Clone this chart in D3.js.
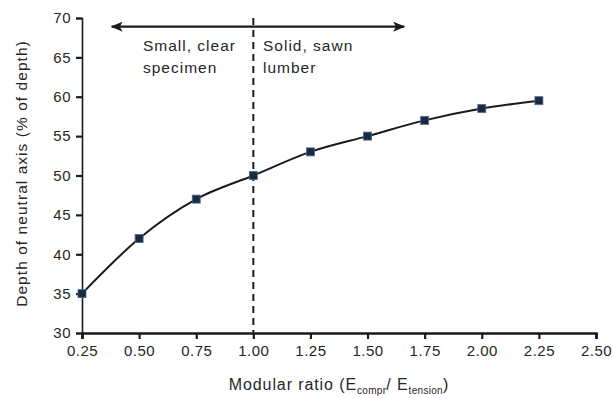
<!DOCTYPE html>
<html><head><meta charset="utf-8">
<script src="https://cdn.jsdelivr.net/npm/d3@7"></script>
<style>
body{margin:0;background:#fff;}
text{font-family:"Liberation Sans",Arial,sans-serif;fill:#262626;}
</style></head>
<body>
<svg id="c" width="612" height="398"></svg>
<script>
const ratios = [0.25, 0.50, 0.75, 1.00, 1.25, 1.50, 1.75, 2.00, 2.25];
const depths = [35, 42, 47, 50, 53, 55, 57, 58.5, 59.5];
const xTicks = [0.25, 0.50, 0.75, 1.00, 1.25, 1.50, 1.75, 2.00, 2.25, 2.50];
const yTicks = [30, 35, 40, 45, 50, 55, 60, 65, 70];
const dividerRatio = 1.00;
const arrowRange = [0.38, 1.66];
const arrowDepth = 68.9;
const leftLabel = ["Small, clear", "specimen"];
const rightLabel = ["Solid, sawn", "lumber"];

const svg = d3.select("#c");
const m = {l: 82, r: 16, t: 18, b: 65};
const W = 612, H = 398;
const x = d3.scaleLinear().domain([0.25, 2.50]).range([m.l, W - m.r]);
const y = d3.scaleLinear().domain([30, 70]).range([H - m.b, m.t]);

const defs = svg.append("defs");
defs.append("marker").attr("id","ah").attr("viewBox","0 0 12 10").attr("refX",11).attr("refY",5)
  .attr("markerWidth",12).attr("markerHeight",10).attr("markerUnits","userSpaceOnUse").attr("orient","auto-start-reverse")
  .append("path").attr("d","M0,0 L12,5 L0,10 L3,5 Z").attr("fill","#1a1a1a");

// axes
const xa = svg.append("g").attr("transform",`translate(0,${y(30)})`)
  .call(d3.axisBottom(x).tickValues(xTicks).tickFormat(d3.format(".2f")).tickSize(6).tickSizeOuter(6).tickPadding(6));
const ya = svg.append("g").attr("transform",`translate(${x(0.25)},0)`)
  .call(d3.axisLeft(y).tickValues(yTicks).tickSize(6).tickSizeOuter(6).tickPadding(5));
[xa, ya].forEach(g => {
  g.select(".domain").attr("stroke","#1a1a1a");
  g.selectAll(".tick line").attr("stroke","#1a1a1a").attr("stroke-width",2.2);
  g.selectAll("text").style("font-size","15px").style("letter-spacing","0.5px").attr("fill","#262626")
    .style("font-family","'Liberation Sans',Arial,sans-serif");
});
xa.select(".domain").attr("stroke-width",2.6);
ya.select(".domain").attr("stroke-width",1.6);

// divider
svg.append("line").attr("x1",x(dividerRatio)).attr("x2",x(dividerRatio))
  .attr("y1",y(70)).attr("y2",y(30)).attr("stroke","#1a1a1a").attr("stroke-width",2)
  .attr("stroke-dasharray","7,5");

// arrow
svg.append("line").attr("x1",x(arrowRange[0])).attr("x2",x(arrowRange[1]))
  .attr("y1",y(arrowDepth)).attr("y2",y(arrowDepth)).attr("stroke","#1a1a1a").attr("stroke-width",2.2)
  .attr("marker-start","url(#ah)").attr("marker-end","url(#ah)");

// labels
const lab = (lines, xx) => lines.forEach((t,i) => svg.append("text").attr("x",xx).attr("y",51 + i*22)
  .style("font-size","15.5px").style("letter-spacing","1px").text(t));
lab(leftLabel, 143);
lab(rightLabel, 263);

// curve
const pts = ratios.map((r,i) => [r, depths[i]]);
svg.append("path").datum(pts)
  .attr("d", d3.line().x(d => x(d[0])).y(d => y(d[1])).curve(d3.curveMonotoneX))
  .attr("fill","none").attr("stroke","#1a1a1a").attr("stroke-width",2);

svg.selectAll("rect.pt").data(pts).join("rect").attr("class","pt")
  .attr("x", d => x(d[0]) - 4).attr("y", d => y(d[1]) - 4).attr("width",8).attr("height",8)
  .attr("fill","#1c2a3e").attr("stroke","#4a6b99").attr("stroke-width",0.8);

// axis titles
const xt = svg.append("text").attr("x", 339).attr("y", 390).attr("text-anchor","middle")
  .style("font-size","16px").style("letter-spacing","0.9px");
xt.append("tspan").text("Modular ratio (E");
xt.append("tspan").attr("dy",4).style("font-size","10px").style("letter-spacing","0.3px").text("compr");
xt.append("tspan").attr("dy",-4).text("/ E");
xt.append("tspan").attr("dy",4).style("font-size","10px").style("letter-spacing","0.3px").text("tension");
xt.append("tspan").attr("dy",-4).text(")");

svg.append("text").attr("transform",`translate(27,${(y(30)+y(70))/2 - 2}) rotate(-90)`)
  .attr("text-anchor","middle").style("font-size","15.5px").style("letter-spacing","1.05px")
  .text("Depth of neutral axis (% of depth)");
</script>
</body></html>
